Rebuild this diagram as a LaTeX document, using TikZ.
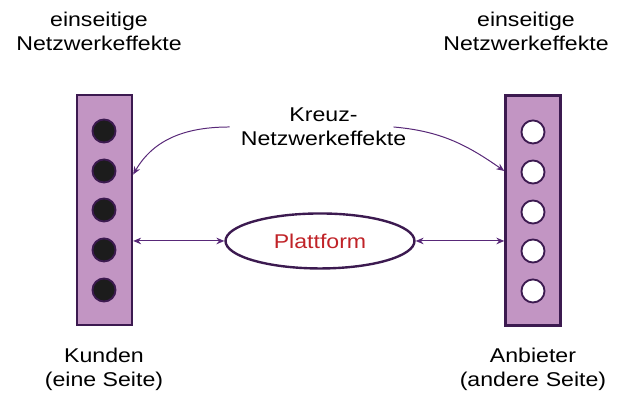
\documentclass[tikz,border=0pt]{standalone}
\usepackage{fontspec}
\setmainfont{Liberation Sans}[FakeStretch=1.16]
\usepackage{tikz}
\usetikzlibrary{shapes.geometric,arrows.meta}
\pgfdeclarelayer{bg}
\pgfsetlayers{bg,main}
\definecolor{seitefill}{RGB}{194,149,195}
\definecolor{rand}{RGB}{60,26,80}
\definecolor{pfeilfarbe}{RGB}{88,40,120}
\definecolor{plattrot}{RGB}{192,35,40}
\definecolor{punkt}{RGB}{28,28,28}

\begin{document}
\begin{tikzpicture}[
        seite/.style={draw=rand, fill=seitefill, line width=1.8pt, minimum width=1.455cm, minimum height=6.085cm, inner sep=0pt},
        kpunkt/.style={circle, draw=rand, fill=punkt, line width=1.4pt, minimum size=0.61cm, inner sep=0pt},
        apunkt/.style={kpunkt, fill=white},
        txt/.style={align=center, inner sep=0pt, font=\fontsize{15}{18.2}\selectfont},
        pfeil/.style={draw=pfeilfarbe, line width=0.75pt, -{Stealth[length=6pt,width=5pt]}},
        doppelpfeil/.style={pfeil, {Stealth[length=6pt,width=5pt]}-{Stealth[length=6pt,width=5pt]}},
]
        \useasboundingbox (0cm, 0cm) rectangle (16.96cm, 10.98cm);
        \node (kunden) [seite] at (2.765cm, 5.424cm) {};
        \node (anbieter) [seite] at (14.102cm, 5.411cm) {};
        \node (k1) [kpunkt] at (2.752cm, 7.514cm) {};
        \node (k2) [kpunkt] at (2.752cm, 6.456cm) {};
        \node (k3) [kpunkt] at (2.752cm, 5.424cm) {};
        \node (k4) [kpunkt] at (2.752cm, 4.366cm) {};
        \node (k5) [kpunkt] at (2.752cm, 3.307cm) {};
        \node (a1) [apunkt] at (14.102cm, 7.488cm) {};
        \node (a2) [apunkt] at (14.102cm, 6.429cm) {};
        \node (a3) [apunkt] at (14.102cm, 5.371cm) {};
        \node (a4) [apunkt] at (14.102cm, 4.339cm) {};
        \node (a5) [apunkt] at (14.102cm, 3.281cm) {};
        \node (plattform) [ellipse, draw=rand, line width=1.8pt, minimum width=5cm, minimum height=1.455cm, txt, text=plattrot] at (8.467cm, 4.604cm) {Plattform};
        \node (einsL) [txt] at (2.619cm, 10.16cm) {einseitige\\Netzwerkeffekte};
        \node (einsR) [txt] at (13.917cm, 10.16cm) {einseitige\\Netzwerkeffekte};
        \node (kreuz) [txt] at (8.559cm, 7.62cm) {Kreuz-\\Netzwerkeffekte};
        \node (kundenText) [txt] at (2.752cm, 1.217cm) {Kunden\\(eine Seite)};
        \node (anbieterText) [txt] at (14.102cm, 1.217cm) {Anbieter\\(andere Seite)};
        \begin{pgfonlayer}{bg}
                \draw [pfeil] ([xshift=-0.29cm]kreuz.west) to [out=180, in=60] (kunden.51);
                \draw [pfeil] ([xshift=-0.34cm]kreuz.east) to [out=-5, in=145] (anbieter.126);
                \draw [doppelpfeil] (kunden.east |- plattform.west) -- (plattform.west);
                \draw [doppelpfeil] (plattform.east) -- (anbieter.west |- plattform.east);
        \end{pgfonlayer}
\end{tikzpicture}
\end{document}
